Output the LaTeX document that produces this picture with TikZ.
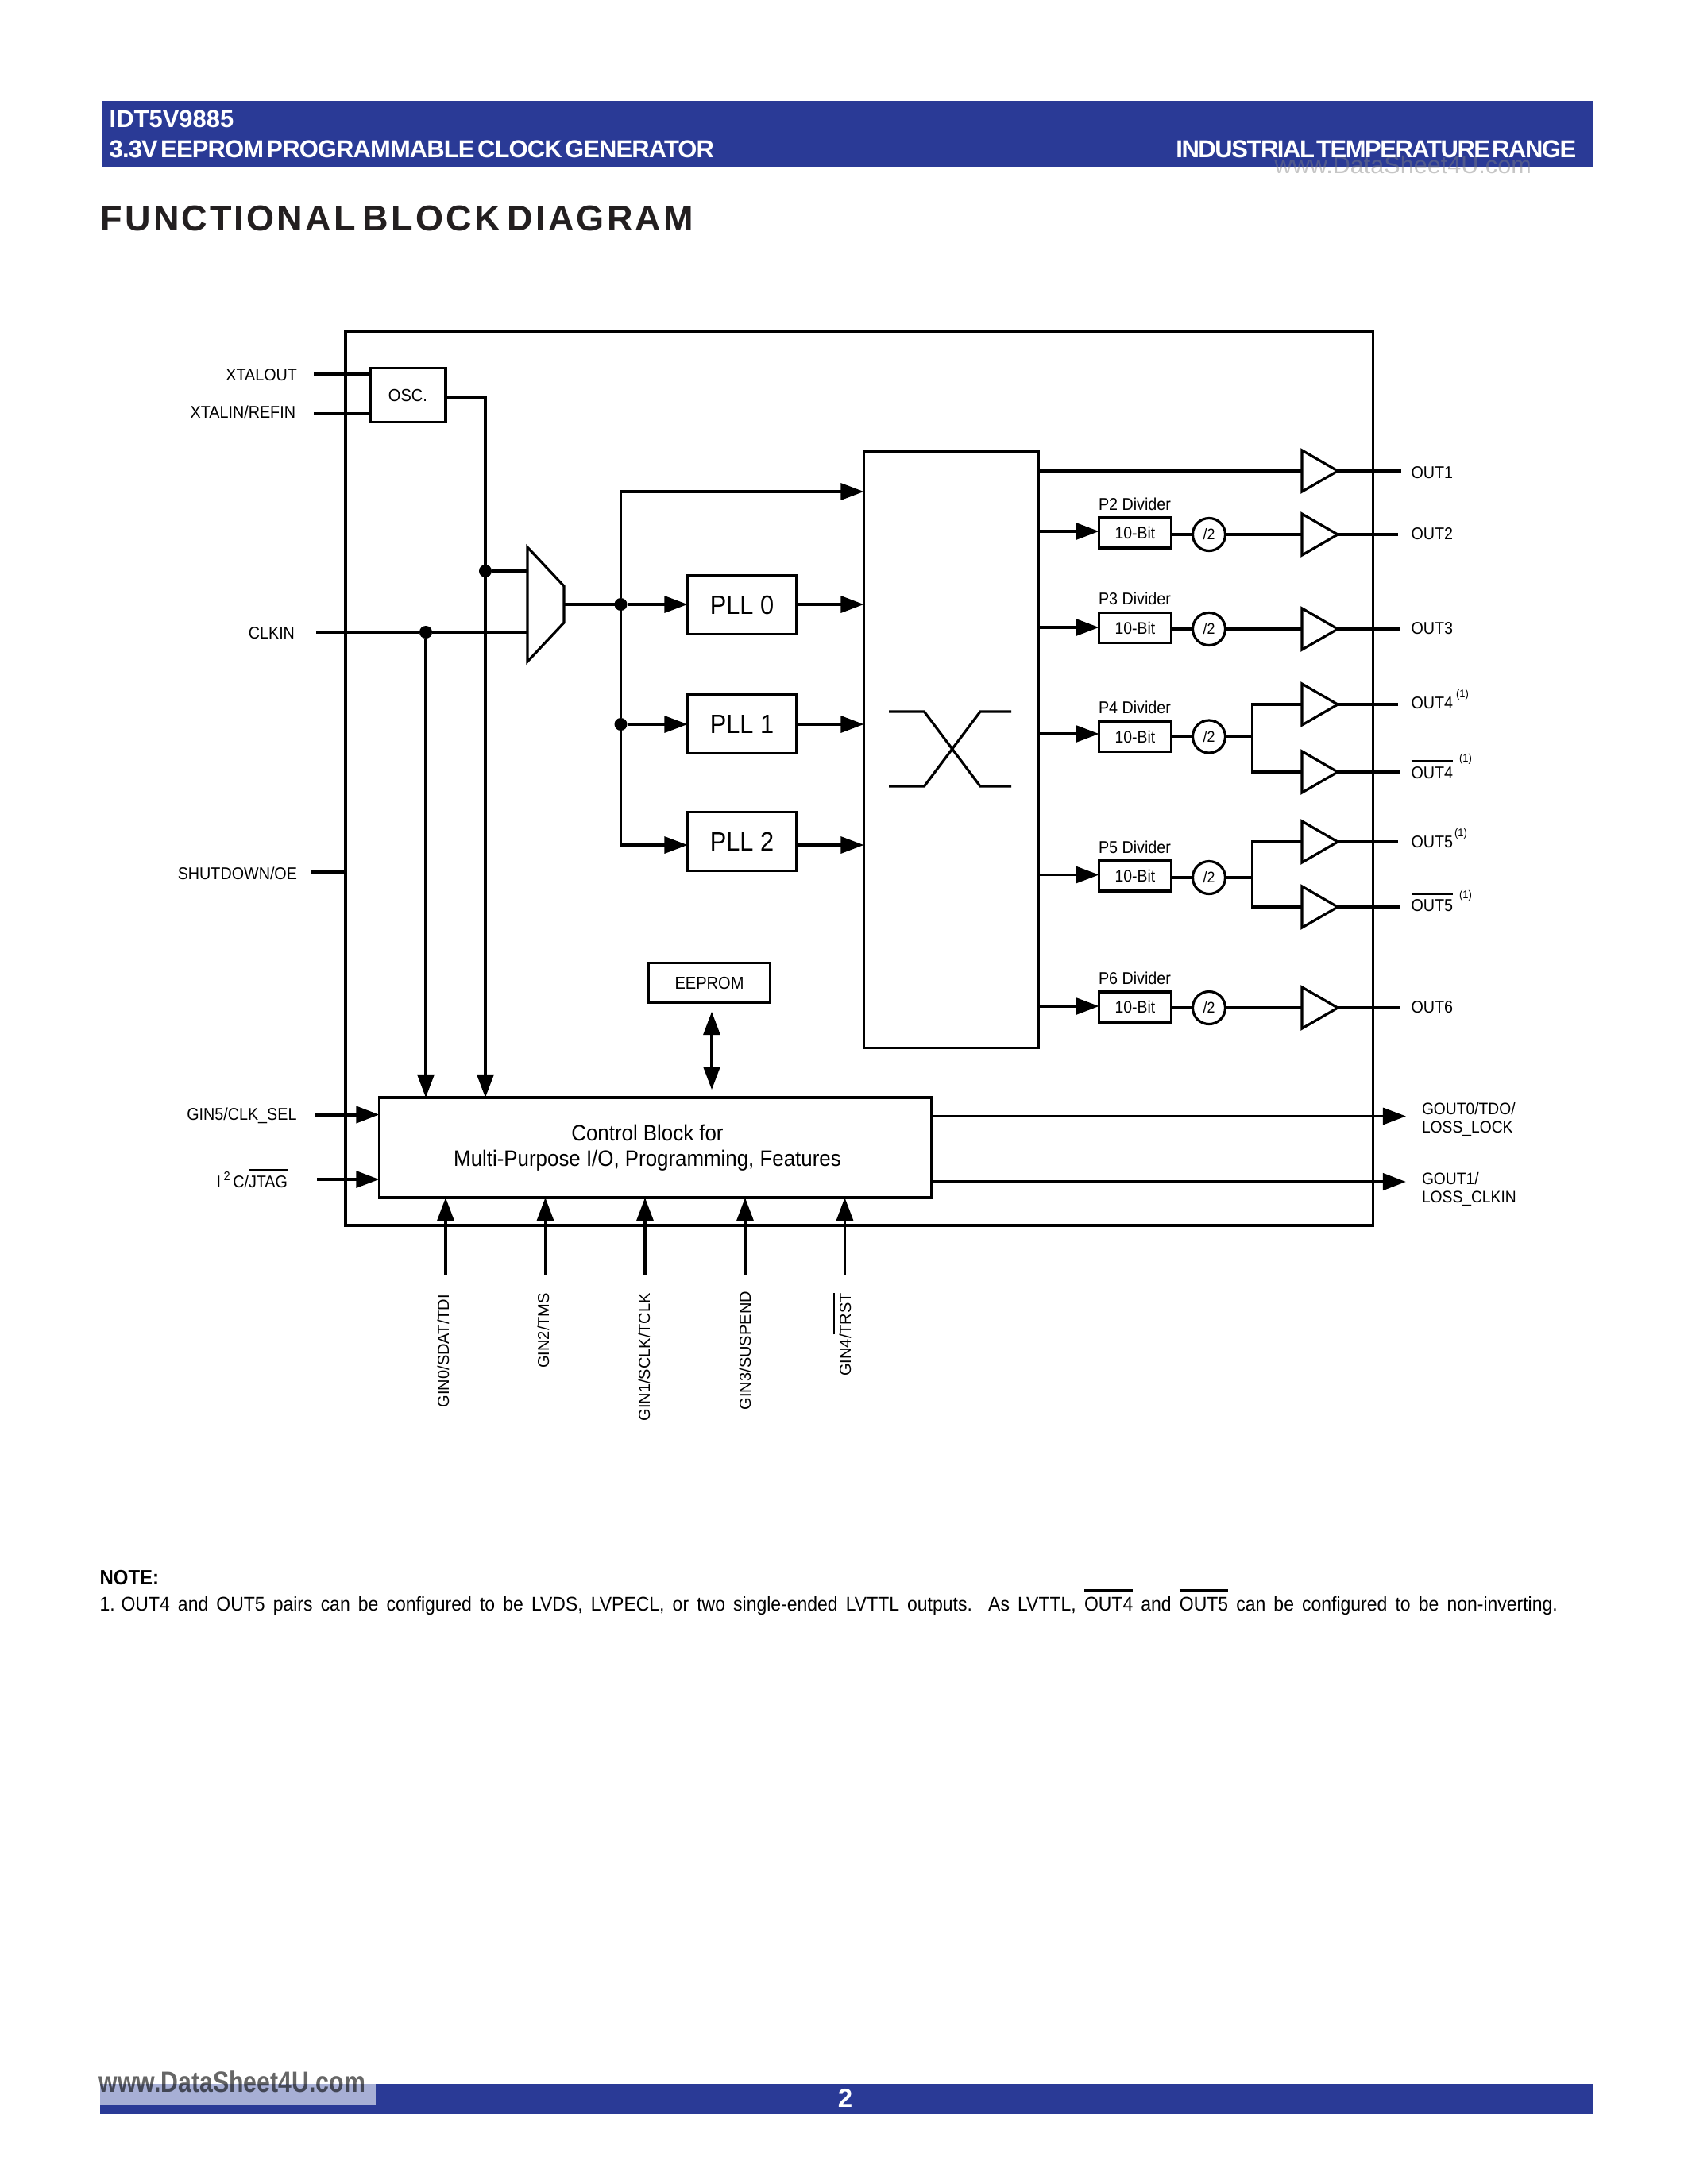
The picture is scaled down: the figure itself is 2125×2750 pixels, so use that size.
\documentclass[tikz,border=0pt]{standalone}
\usepackage{fontspec}
\usetikzlibrary{arrows.meta, shapes.geometric}

\setmainfont[FakeStretch=0.92]{Liberation Sans}
\newfontfamily\plainfont{Liberation Sans}
\newfontfamily\headfont[LetterSpace=-2.8,WordSpace=0.45]{Liberation Sans}
\newfontfamily\rangefont[LetterSpace=-4.6,WordSpace=0.3]{Liberation Sans}
\newfontfamily\titlefont[LetterSpace=7,WordSpace=0.6]{Liberation Sans}
\newfontfamily\wmfont[FakeStretch=0.82]{Liberation Sans}

\definecolor{idtblue}{HTML}{2A3A96}
\definecolor{idtlight}{HTML}{A7AFD5}
\definecolor{idttitle}{HTML}{231F20}

\newcommand{\ovl}[1]{\setbox0\hbox{#1}\rlap{\rule[0.98em]{\wd0}{0.75pt}}\box0\relax}

\tikzset{
    wire/.style  = {line width=0.032cm},
    arr/.style   = {wire, -{Triangle[length=0.29cm,width=0.21cm]}},
    darr/.style  = {wire, {Triangle[length=0.29cm,width=0.21cm]}-{Triangle[length=0.29cm,width=0.21cm]}},
    boxed/.style = {draw, wire, inner sep=0, outer sep=0},
    lab/.style   = {inner sep=0, outer sep=0, font=\fontsize{6.1}{6.6}\selectfont},
    rlab/.style  = {lab, rotate=90, anchor=east, font=\plainfont\fontsize{5.7}{6.6}\selectfont},
    suplab/.style= {inner sep=0, outer sep=0, font=\fontsize{4}{4.4}\selectfont},
    pll/.style   = {boxed, minimum width=1.37cm, minimum height=0.74cm, font=\fontsize{9.5}{10}\selectfont},
    tenbit/.style= {boxed, minimum width=0.91cm, minimum height=0.38cm, font=\fontsize{6}{6.4}\selectfont},
    divc/.style  = {boxed, circle, minimum size=0.41cm, font=\fontsize{5.5}{6}\selectfont},
    buf/.style   = {draw, wire, isosceles triangle, isosceles triangle stretches, inner sep=0, outer sep=0,
                    minimum width=0.52cm, minimum height=0.45cm, anchor=lower side},
    dot/.style   = {circle, fill=black, inner sep=0, outer sep=0, minimum size=0.16cm},
}

\begin{document}
\begin{tikzpicture}[x=0.01cm, y=-0.01cm]

    \useasboundingbox (0,0) rectangle (2125,2750);

    % page furniture
    \fill[idtblue] (128,127) rectangle (2005,210);
    \node[anchor=base west, inner sep=0, text=gray, text opacity=0.45, font=\plainfont\fontsize{8.7}{9}\selectfont] (wmtop) at (1604,218) {www.DataSheet4U.com};
    \node[anchor=base west, inner sep=0, text=white, font=\plainfont\bfseries\fontsize{8.8}{9}\selectfont] (partno) at (137,160) {IDT5V9885};
    \node[anchor=base west, inner sep=0, text=white, font=\headfont\bfseries\fontsize{8.8}{9}\selectfont] (subtitle) at (137,198) {3.3V EEPROM PROGRAMMABLE CLOCK GENERATOR};
    \node[anchor=base east, inner sep=0, text=white, font=\rangefont\bfseries\fontsize{8.8}{9}\selectfont] (temprange) at (1985,198) {INDUSTRIAL TEMPERATURE RANGE};
    \node[anchor=base west, inner sep=0, text=idttitle, font=\titlefont\bfseries\fontsize{12.8}{13}\selectfont] (heading) at (126,290) {FUNCTIONAL BLOCK DIAGRAM};

    % outer chip outline
    \draw[wire] (435,417.5) rectangle (1728.5,1543);

    % oscillator and inputs
    \node[boxed, minimum width=0.95cm, minimum height=0.68cm, font=\fontsize{6.2}{6.6}\selectfont] (osc) at (513.5,497.5) {OSC.};
    \node[lab, anchor=east] (xtalout) at (374,472) {XTALOUT};
    \node[lab, anchor=east] (xtalin) at (372,519) {XTALIN/REFIN};
    \node[lab, anchor=east] (clkin) at (371,797) {CLKIN};
    \node[lab, anchor=east] (shutdown) at (374,1100) {SHUTDOWN/OE};
    \coordinate (xtaloutend) at (395,471);
    \coordinate (xtalinend) at (395,521);
    \coordinate (clkinend) at (398,796);
    \coordinate (shutend) at (391,1098);
    \draw[wire] (xtaloutend) -- (osc.west |- xtaloutend);
    \draw[wire] (xtalinend) -- (osc.west |- xtalinend);
    \draw[wire] (shutend) -- (435,1098);

    % control block
    \node[boxed, minimum width=6.95cm, minimum height=1.26cm] (ctl) at (825,1445) {};
    \node[inner sep=0, align=center, font=\fontsize{8}{9.1}\selectfont] (ctltext) at (815,1445)
        {Control Block for\\Multi-Purpose I/O, Programming, Features};

    % mux
    \coordinate (muxa) at (664,719);
    \coordinate (muxb) at (664,796);
    \coordinate (muxout) at (710,761);
    \draw[wire, line join=miter] (664,689) -- (710,738) -- (710,784) -- (664,833) -- cycle;
    \node[dot] (joinosc) at (611,719) {};
    \node[dot] (joinclk) at (536,796) {};
    \coordinate (oscout) at (561,500);
    \draw[wire] (oscout) -- (joinosc |- oscout) -- (joinosc);
    \draw[arr] (joinosc) -- (joinosc |- ctl.north);
    \draw[wire] (joinosc) -- (muxa);
    \draw[wire] (clkinend) -- (joinclk) -- (muxb);
    \draw[arr] (joinclk) -- (joinclk |- ctl.north);

    % crosspoint
    \node[boxed, minimum width=2.20cm, minimum height=7.51cm] (xpoint) at (1197.5,944) {};
    \draw[wire] (1119,896) -- (1163.5,896) -- (1234,990) -- (1273,990);
    \draw[wire] (1119,990) -- (1163.5,990) -- (1234,896) -- (1273,896);

    % PLLs
    \node[pll] (pll0) at (934,761.5) {PLL 0};
    \node[pll] (pll1) at (934,911.5) {PLL 1};
    \node[pll] (pll2) at (934,1059.5) {PLL 2};
    \node[dot] (join0) at (781.5,761) {};
    \node[dot] (join1) at (781.5,912) {};
    \coordinate (pll2in) at (865.5,1064);
    \coordinate (topin) at (781.5,619);
    \draw[wire] (muxout) -- (join0);
    \draw[arr] (join0) -- (pll0.west |- join0);
    \draw[arr] (join1) -- (pll1.west |- join1);
    \draw[arr] (join0) -- (topin) -- (xpoint.west |- topin);
    \draw[wire] (join0) -- (join1);
    \draw[arr] (join1) |- (pll2in);
    \draw[arr] (pll0.east |- join0) -- (xpoint.west |- join0);
    \draw[arr] (pll1.east |- join1) -- (xpoint.west |- join1);
    \draw[arr] (pll2.east |- pll2in) -- (xpoint.west |- pll2in);

    % EEPROM
    \node[boxed, minimum width=1.53cm, minimum height=0.50cm, font=\fontsize{6.2}{6.6}\selectfont] (eeprom) at (893,1237.5) {EEPROM};
    \coordinate (eeup) at (896,1274);
    \coordinate (eedn) at (896,1372);
    \draw[darr] (eeup) -- (eedn);

    % OUT1
    \node[buf] (buf1) at (1639,593) {};
    \draw[line width=0.04cm] (xpoint.east |- buf1.lower side) -- (buf1.lower side);
    \coordinate (out1end) at (1764,593);
    \draw[wire] (buf1.apex) -- (out1end);
    \node[lab, anchor=west] (out1) at (1776.5,595) {OUT1};

    % OUT2
    \node[lab, anchor=west] (p2lab) at (1383,635) {P2 Divider};
    \node[tenbit] (p2) at (1429,671) {10-Bit};
    \node[divc] (d2) at (1522,673) {/2};
    \node[buf] (buf2) at (1639,673) {};
    \coordinate (a2) at (1383.5,669);
    \coordinate (out2end) at (1760,673);
    \draw[arr] (xpoint.east |- a2) -- (a2);
    \draw[wire] (p2.east |- d2.west) -- (d2.west);
    \draw[wire] (d2.east) -- (buf2.lower side);
    \draw[wire] (buf2.apex) -- (out2end);
    \node[lab, anchor=west] (out2) at (1776.5,672) {OUT2};

    % OUT3
    \node[lab, anchor=west] (p3lab) at (1383,754) {P3 Divider};
    \node[tenbit] (p3) at (1429,790.5) {10-Bit};
    \node[divc] (d3) at (1522,792) {/2};
    \node[buf] (buf3) at (1639,792) {};
    \coordinate (a3) at (1383.5,790);
    \coordinate (out3end) at (1762,792);
    \draw[arr] (xpoint.east |- a3) -- (a3);
    \draw[wire] (p3.east |- d3.west) -- (d3.west);
    \draw[wire] (d3.east) -- (buf3.lower side);
    \draw[wire] (buf3.apex) -- (out3end);
    \node[lab, anchor=west] (out3) at (1776.5,791) {OUT3};

    % OUT4 pair
    \node[lab, anchor=west] (p4lab) at (1383,891) {P4 Divider};
    \node[tenbit] (p4) at (1429,927.5) {10-Bit};
    \node[divc] (d4) at (1522,927.5) {/2};
    \node[buf] (buf4a) at (1639,887) {};
    \node[buf] (buf4b) at (1639,972) {};
    \coordinate (a4) at (1383.5,924);
    \coordinate (fork4) at (1576.5,927.5);
    \coordinate (out4aend) at (1760,887);
    \coordinate (out4bend) at (1762,972);
    \draw[arr] (xpoint.east |- a4) -- (a4);
    \draw[wire] (p4.east |- d4.west) -- (d4.west);
    \draw[wire] (d4.east) -- (fork4);
    \draw[wire] (buf4a.lower side) -| (fork4) |- (buf4b.lower side);
    \draw[wire] (buf4a.apex) -- (out4aend);
    \draw[wire] (buf4b.apex) -- (out4bend);
    \node[lab, anchor=west] (out4a) at (1776.5,885) {OUT4};
    \node[lab, anchor=west] (out4b) at (1776.5,969) {\ovl{OUT4}};
    \node[suplab] (sup4a) at (1841,875) {(1)};
    \node[suplab] (sup4b) at (1845,956) {(1)};

    % OUT5 pair
    \node[lab, anchor=west] (p5lab) at (1383,1067) {P5 Divider};
    \node[tenbit] (p5) at (1429,1103) {10-Bit};
    \node[divc] (d5) at (1522,1105) {/2};
    \node[buf] (buf5a) at (1639,1060) {};
    \node[buf] (buf5b) at (1639,1142) {};
    \coordinate (a5) at (1383.5,1101.5);
    \coordinate (fork5) at (1576.5,1105);
    \coordinate (out5aend) at (1760,1060);
    \coordinate (out5bend) at (1762,1142);
    \draw[arr] (xpoint.east |- a5) -- (a5);
    \draw[wire] (p5.east |- d5.west) -- (d5.west);
    \draw[wire] (d5.east) -- (fork5);
    \draw[wire] (buf5a.lower side) -| (fork5) |- (buf5b.lower side);
    \draw[wire] (buf5a.apex) -- (out5aend);
    \draw[wire] (buf5b.apex) -- (out5bend);
    \node[lab, anchor=west] (out5a) at (1776.5,1060) {OUT5};
    \node[lab, anchor=west] (out5b) at (1776.5,1136) {\ovl{OUT5}};
    \node[suplab] (sup5a) at (1839,1050) {(1)};
    \node[suplab] (sup5b) at (1845,1127.5) {(1)};

    % OUT6
    \node[lab, anchor=west] (p6lab) at (1383,1232) {P6 Divider};
    \node[tenbit] (p6) at (1429,1268) {10-Bit};
    \node[divc] (d6) at (1522,1269) {/2};
    \node[buf] (buf6) at (1639,1269) {};
    \coordinate (a6) at (1383.5,1267);
    \coordinate (out6end) at (1762,1269);
    \draw[arr] (xpoint.east |- a6) -- (a6);
    \draw[wire] (p6.east |- d6.west) -- (d6.west);
    \draw[line width=0.04cm] (d6.east) -- (buf6.lower side);
    \draw[line width=0.04cm] (buf6.apex) -- (out6end);
    \node[lab, anchor=west] (out6) at (1776.5,1268) {OUT6};

    % general purpose outputs
    \coordinate (gout0end) at (1770,1405.5);
    \coordinate (gout1end) at (1770,1488);
    \draw[arr] (ctl.east |- gout0end) -- (gout0end);
    \draw[arr, line width=0.04cm] (ctl.east |- gout1end) -- (gout1end);
    \node[lab, anchor=west, align=left, font=\fontsize{5.95}{6.6}\selectfont] (gout0) at (1790,1409.5) {GOUT0/TDO/\\LOSS\_LOCK};
    \node[lab, anchor=west, align=left, font=\fontsize{5.95}{6.6}\selectfont] (gout1) at (1790,1497.5) {GOUT1/\\LOSS\_CLKIN};

    % side inputs of control block
    \coordinate (gin5end) at (397,1403.5);
    \coordinate (i2cend) at (399,1485);
    \draw[arr, line width=0.04cm] (gin5end) -- (ctl.west |- gin5end);
    \draw[arr] (i2cend) -- (ctl.west |- i2cend);
    \node[lab, anchor=east] (gin5) at (373.5,1405) {GIN5/CLK\_SEL};
    \node[lab, anchor=east] (i2c) at (362,1484) {I\,\raisebox{.45em}{\fontsize{4.5}{5}\selectfont 2}\,C/\ovl{JTAG}};

    % bottom inputs of control block
    \coordinate (g0) at (561,1605);
    \coordinate (g2) at (686.5,1605);
    \coordinate (g1) at (812,1605);
    \coordinate (g3) at (938,1605);
    \coordinate (g4) at (1063.5,1605);
    \draw[arr] (g0) -- (g0 |- ctl.south);
    \draw[arr] (g2) -- (g2 |- ctl.south);
    \draw[arr] (g1) -- (g1 |- ctl.south);
    \draw[arr] (g3) -- (g3 |- ctl.south);
    \draw[arr] (g4) -- (g4 |- ctl.south);
    \node[rlab] (gin0) at (558,1630) {GIN0/SDAT/TDI};
    \node[rlab] (gin2) at (684,1628) {GIN2/TMS};
    \node[rlab] (gin1) at (811,1628) {GIN1/SCLK/TCLK};
    \node[rlab] (gin3) at (938,1626) {GIN3/SUSPEND};
    \node[rlab] (gin4) at (1060,1628) {GIN4/\ovl{TRST}};

    % note
    \node[anchor=base west, inner sep=0, font=\bfseries\fontsize{7.4}{8}\selectfont] (notehead) at (125,1995) {NOTE:};
    \node[anchor=base west, inner sep=0, font=\fontsize{7.1}{8}\selectfont] (notetext) at (125,2028)
        {\makebox[18.34cm][s]{1.\hspace{2.2pt}OUT4 and OUT5 pairs can be configured to be LVDS, LVPECL, or two single-ended LVTTL outputs.\ \ As LVTTL, \ovl{OUT4} and \ovl{OUT5} can be configured to be non-inverting.}};

    % footer
    \fill[idtblue] (126,2624) rectangle (2005,2662);
    \fill[idtlight] (126,2624) rectangle (473,2650);
    \node[anchor=base west, inner sep=0, text=black, text opacity=0.6, font=\wmfont\bfseries\fontsize{10.5}{11}\selectfont] (wmfoot) at (124,2634) {www.DataSheet4U.com};
    \node[inner sep=0, text=white, font=\plainfont\bfseries\fontsize{9.4}{10}\selectfont] (pageno) at (1064,2642) {2};
\end{tikzpicture}
\end{document}
